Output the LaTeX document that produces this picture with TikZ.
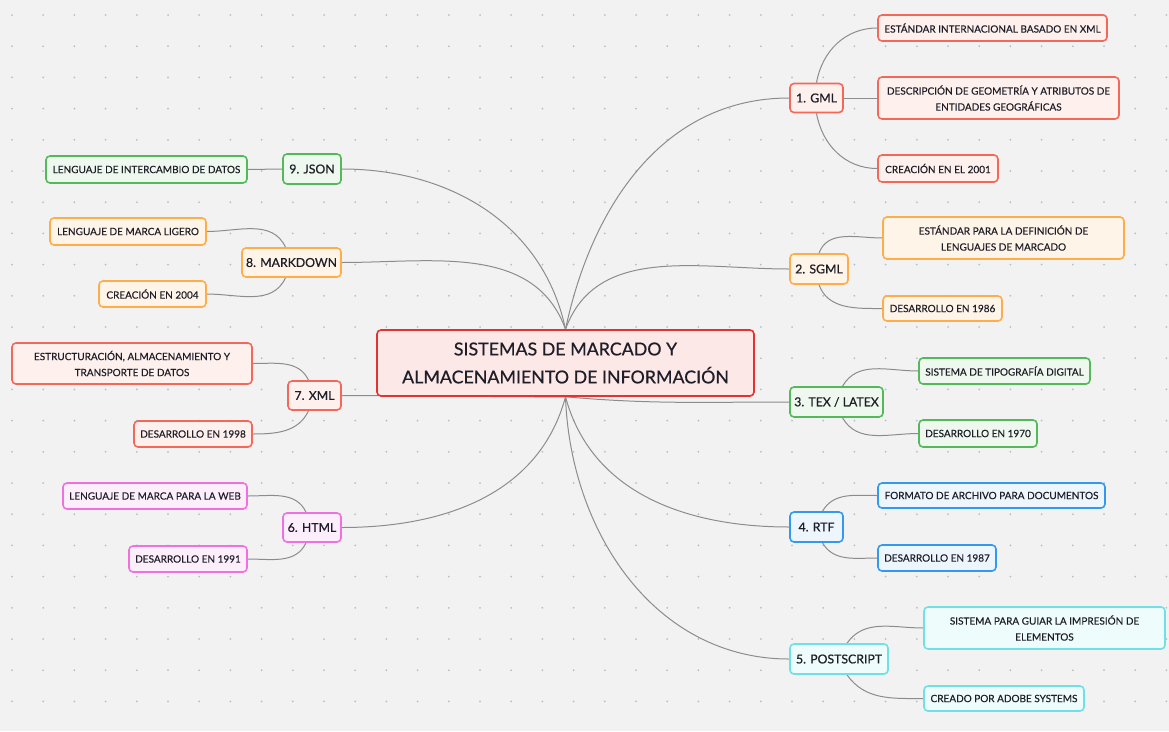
\documentclass[tikz,border=0pt]{standalone}
\usepackage{fontspec}
\setmainfont{Lato}
\newfontfamily\semib[FakeBold=0.6]{Lato}
\newfontfamily\leafb[FakeBold=0.25]{Lato}
\usetikzlibrary{calc}
\definecolor{bgc}{HTML}{F2F2F2}
\definecolor{dotc}{HTML}{B4C0C8}
\definecolor{linec}{HTML}{8C8C8C}
\definecolor{txt}{HTML}{1E1E28}
\definecolor{rootB}{HTML}{E5322F}\definecolor{rootF}{HTML}{FDE8E8}
\definecolor{salB}{HTML}{F4685A}\definecolor{salF}{HTML}{FDF0ED}
\definecolor{orB}{HTML}{FFAC4A}\definecolor{orF}{HTML}{FFF4E8}
\definecolor{grB}{HTML}{55B85A}\definecolor{grF}{HTML}{EFF8EF}
\definecolor{blB}{HTML}{3399EE}\definecolor{blF}{HTML}{EDF5FD}
\definecolor{cyB}{HTML}{6EE0E6}\definecolor{cyF}{HTML}{EEFCFC}
\definecolor{mgB}{HTML}{F070E0}\definecolor{mgF}{HTML}{FDEEFC}
\pgfdeclarelayer{bg}
\pgfsetlayers{bg,main}
\tikzset{
  box/.style={rounded corners=4pt, line width=1.6pt, inner sep=0pt, align=center, text=txt},
  leaf/.style={box, font=\leafb\fontsize{10}{16}\selectfont},
  branch/.style={box, font=\semib\fontsize{12.3}{16}\selectfont},
  rootbox/.style={box, draw=rootB, fill=rootF, font=\semib\fontsize{17.8}{28}\selectfont},
  sal/.style={draw=salB, fill=salF},
  ora/.style={draw=orB, fill=orF},
  gre/.style={draw=grB, fill=grF},
  blu/.style={draw=blB, fill=blF},
  cya/.style={draw=cyB, fill=cyF},
  mag/.style={draw=mgB, fill=mgF},
  conn/.style={draw=linec, line width=1pt},
  sz/.style 2 args={minimum width=#1pt, minimum height=#2pt}
}
\begin{document}
\begin{tikzpicture}[x=1pt,y=-1pt]
\useasboundingbox (0,0) rectangle (1169,731);
% root
\node[rootbox, sz={377}{66}] (root) at (565.5,363) {SISTEMAS DE MARCADO Y\\ALMACENAMIENTO DE INFORMACIÓN};
% GML
\node[branch, sal, sz={53}{29}] (gml) at (816.5,98) {1. GML};
\node[leaf, sal, sz={229}{26}] (gml1) at (992.5,28) {ESTÁNDAR INTERNACIONAL BASADO EN XML};
\node[leaf, sal, sz={241}{42}] (gml2) at (998.5,98) {DESCRIPCIÓN DE GEOMETRÍA Y ATRIBUTOS DE\\ENTIDADES GEOGRÁFICAS};
\node[leaf, sal, sz={120}{27}] (gml3) at (938,168.5) {CREACIÓN EN EL 2001};
% SGML
\node[branch, ora, sz={58}{30}] (sgml) at (819,269) {2. SGML};
\node[leaf, ora, sz={241}{42}] (sgml1) at (1003.5,238) {ESTÁNDAR PARA LA DEFINICIÓN DE\\LENGUAJES DE MARCADO};
\node[leaf, ora, sz={119}{25}] (sgml2) at (942.5,308.5) {DESARROLLO EN 1986};
% TEX
\node[branch, gre, sz={93}{30}] (tex) at (836.5,402) {3. TEX / LATEX};
\node[leaf, gre, sz={171}{26}] (tex1) at (1004.5,371) {SISTEMA DE TIPOGRAFÍA DIGITAL};
\node[leaf, gre, sz={118}{27}] (tex2) at (978,433.5) {DESARROLLO EN 1970};
% RTF
\node[branch, blu, sz={53}{30}] (rtf) at (816.5,527) {4. RTF};
\node[leaf, blu, sz={227}{25}] (rtf1) at (991.5,495.5) {FORMATO DE ARCHIVO PARA DOCUMENTOS};
\node[leaf, blu, sz={118}{26}] (rtf2) at (937,558) {DESARROLLO EN 1987};
% POSTSCRIPT
\node[branch, cya, sz={98}{30}] (ps) at (839,659) {5. POSTSCRIPT};
\node[leaf, cya, sz={241}{42}] (ps1) at (1044.5,628) {SISTEMA PARA GUIAR LA IMPRESIÓN DE\\ELEMENTOS};
\node[leaf, cya, sz={160}{25}] (ps2) at (1004,698.5) {CREADO POR ADOBE SYSTEMS};
% JSON
\node[branch, gre, sz={58}{30}] (json) at (312,169) {9. JSON};
\node[leaf, gre, sz={201}{27}] (json1) at (146.5,169.5) {LENGUAJE DE INTERCAMBIO DE DATOS};
% MARKDOWN
\node[branch, ora, sz={99}{29}] (md) at (291.5,262.5) {8. MARKDOWN};
\node[leaf, ora, sz={156}{27}] (md1) at (128,231.5) {LENGUAJE DE MARCA LIGERO};
\node[leaf, ora, sz={107}{26}] (md2) at (152.5,294) {CREACIÓN EN 2004};
% XML
\node[branch, sal, sz={53}{29}] (xml) at (314.5,395.5) {7. XML};
\node[leaf, sal, sz={240}{41}] (xml1) at (132,363.5) {ESTRUCTURACIÓN, ALMACENAMIENTO Y\\TRANSPORTE DE DATOS};
\node[leaf, sal, sz={118}{26}] (xml2) at (193,434) {DESARROLLO EN 1998};
% HTML
\node[branch, mag, sz={58}{29}] (html) at (312,527.5) {6. HTML};
\node[leaf, mag, sz={184}{26}] (html1) at (155,496) {LENGUAJE DE MARCA PARA LA WEB};
\node[leaf, mag, sz={118}{26}] (html2) at (188,559) {DESARROLLO EN 1991};

\begin{pgfonlayer}{bg}
\fill[bgc] (0,0) rectangle (1169,731);
\foreach \i in {0,...,37} {
  \foreach \j in {0,...,22} {
    \fill[dotc] ({12+31.2*\i},{15+31.2*\j}) circle (1pt);
  }
}
% main connectors
\draw[conn] (root.north) to[out=78,in=180] (gml.west);
\draw[conn] (root.north) to[out=70,in=180] (sgml.west);
\draw[conn] (root.south) to[out=-5,in=180] (tex.west);
\draw[conn] (root.south) to[out=-75,in=180] (rtf.west);
\draw[conn] (root.south) to[out=-88,in=180] (ps.west);
\draw[conn] (root.north) to[out=102,in=0] (json.east);
\draw[conn] (root.north) to[out=110,in=0] (md.east);
\draw[conn] (root.south) to[out=180,in=0] (xml.east);
\draw[conn] (root.south) to[out=-105,in=0] (html.east);
% sub connectors right
\draw[conn] (gml.north) to[out=80,in=180] (gml1.west);
\draw[conn] (gml.east) -- (gml2.west);
\draw[conn] (gml.south) to[out=-80,in=180] (gml3.west);
\draw[conn] (sgml.north) to[out=70,in=180] (sgml1.west);
\draw[conn] (sgml.south) to[out=-70,in=180] (sgml2.west);
\draw[conn] ($(tex.north)+(6,0)$) to[out=60,in=180] (tex1.west);
\draw[conn] ($(tex.south)+(6,0)$) to[out=-60,in=180] (tex2.west);
\draw[conn] ($(rtf.north)+(6,0)$) to[out=60,in=180] (rtf1.west);
\draw[conn] ($(rtf.south)+(6,0)$) to[out=-60,in=180] (rtf2.west);
\draw[conn] ($(ps.north)+(8,0)$) to[out=55,in=180] (ps1.west);
\draw[conn] ($(ps.south)+(8,0)$) to[out=-55,in=180] (ps2.west);
% sub connectors left
\draw[conn] (json1.east) -- (json.west);
\draw[conn] (md1.east) to[out=0,in=115] ($(md.north)+(-6,0)$);
\draw[conn] (md2.east) to[out=0,in=-115] ($(md.south)+(-6,0)$);
\draw[conn] (xml1.east) to[out=0,in=115] ($(xml.north)+(-6,0)$);
\draw[conn] (xml2.east) to[out=0,in=-115] ($(xml.south)+(-6,0)$);
\draw[conn] (html1.east) to[out=0,in=115] ($(html.north)+(-6,0)$);
\draw[conn] (html2.east) to[out=0,in=-115] ($(html.south)+(-6,0)$);
\end{pgfonlayer}
\end{tikzpicture}
\end{document}
